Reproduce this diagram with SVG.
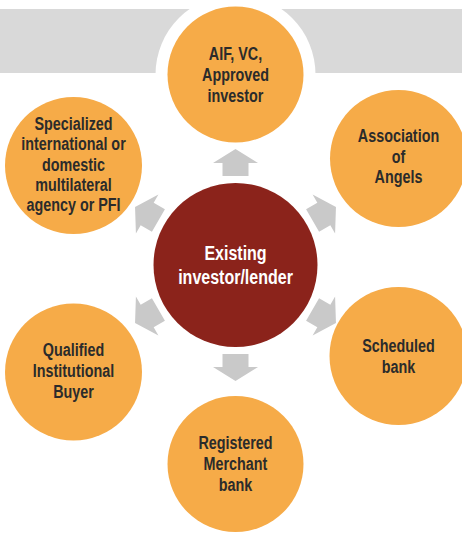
<svg xmlns="http://www.w3.org/2000/svg" xmlns:xlink="http://www.w3.org/1999/xlink" width="462" height="533" viewBox="0 0 462 533">
<style>
.orb{fill:#F6AB48}
.lbl{font-family:"Liberation Sans",Arial,sans-serif;font-weight:bold;font-size:17.5px;fill:#2B2B2B;text-anchor:middle}
.clbl{font-family:"Liberation Sans",Arial,sans-serif;font-weight:bold;font-size:20px;fill:#FFFFFF;text-anchor:middle}
.arrow{fill:#C9C9C9}
</style>
<defs>
<polygon id="arr" points="0,-116 22.5,-102 13,-102 13,-89 -13,-89 -13,-102 -22.5,-102"/>
</defs>
<rect x="0" y="9" width="462" height="64" fill="#D9D9D9"/>
<circle cx="235.5" cy="74.5" r="80" fill="#FFFFFF"/>
<g id="connectors" class="arrow">
<use xlink:href="#arr" transform="translate(235.5 265) rotate(0)"/>
<use xlink:href="#arr" transform="translate(235.5 265) rotate(60)"/>
<use xlink:href="#arr" transform="translate(235.5 265) rotate(120)"/>
<use xlink:href="#arr" transform="translate(235.5 265) rotate(180)"/>
<use xlink:href="#arr" transform="translate(235.5 265) rotate(240)"/>
<use xlink:href="#arr" transform="translate(235.5 265) rotate(300)"/>
</g>
<g id="center">
<circle cx="235.5" cy="265" r="82" fill="#8B231B"/>
<text class="clbl" transform="translate(235.5 0) scale(0.8 1)"><tspan x="0" y="260">Existing</tspan><tspan x="0" y="284">investor/lender</tspan></text>
</g>
<g id="n-aif">
<circle class="orb" cx="235.5" cy="74.5" r="68"/>
<text class="lbl" transform="translate(235.5 0) scale(0.82 1)"><tspan x="0" y="60">AIF, VC,</tspan><tspan x="0" y="81">Approved</tspan><tspan x="0" y="102">investor</tspan></text>
</g>
<g id="n-angels">
<circle class="orb" cx="398.5" cy="158.5" r="68.5"/>
<text class="lbl" transform="translate(398.5 0) scale(0.82 1)"><tspan x="0" y="142.5">Association</tspan><tspan x="0" y="163">of</tspan><tspan x="0" y="183.5">Angels</tspan></text>
</g>
<g id="n-scheduled">
<circle class="orb" cx="398.5" cy="356" r="69"/>
<text class="lbl" transform="translate(398.5 0) scale(0.82 1)"><tspan x="0" y="352.5">Scheduled</tspan><tspan x="0" y="373.5">bank</tspan></text>
</g>
<g id="n-merchant">
<circle class="orb" cx="235.5" cy="464" r="68"/>
<text class="lbl" transform="translate(235.5 0) scale(0.82 1)"><tspan x="0" y="449">Registered</tspan><tspan x="0" y="470">Merchant</tspan><tspan x="0" y="491">bank</tspan></text>
</g>
<g id="n-qib">
<circle class="orb" cx="73.5" cy="372" r="68.5"/>
<text class="lbl" transform="translate(73.5 0) scale(0.82 1)"><tspan x="0" y="356">Qualified</tspan><tspan x="0" y="377.5">Institutional</tspan><tspan x="0" y="398.5">Buyer</tspan></text>
</g>
<g id="n-specialized">
<circle class="orb" cx="73.5" cy="165.5" r="68.5"/>
<text class="lbl" transform="translate(73.5 0) scale(0.82 1)"><tspan x="0" y="130">Specialized</tspan><tspan x="0" y="150.3">international or</tspan><tspan x="0" y="170.6">domestic</tspan><tspan x="0" y="190.9">multilateral</tspan><tspan x="0" y="211">agency or PFI</tspan></text>
</g>
</svg>
